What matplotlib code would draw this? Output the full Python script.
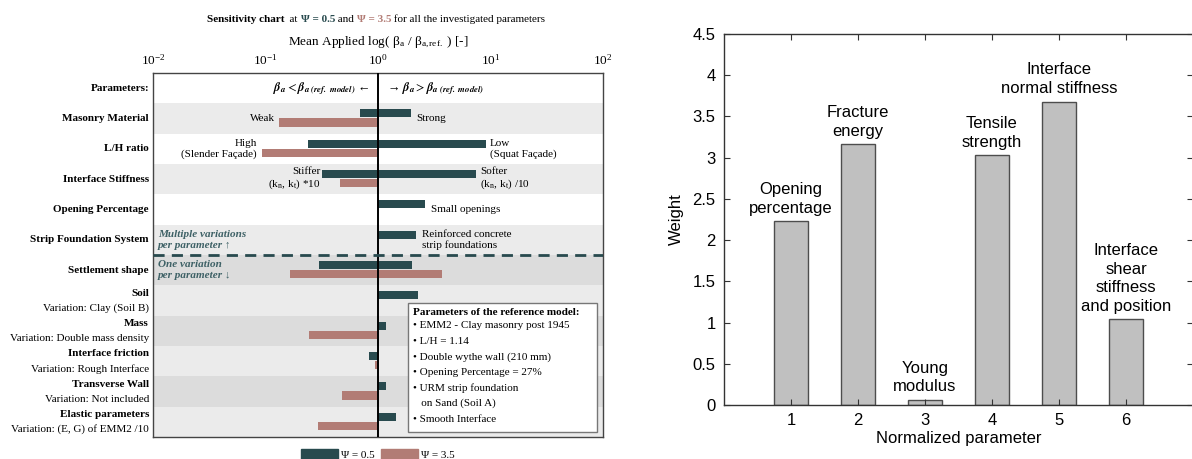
import numpy as np
import matplotlib.pyplot as plt
from matplotlib.patches import Patch, Rectangle

plt.rcParams['mathtext.fontset'] = 'stix'
plt.rcParams['font.family'] = ['Liberation Serif', 'DejaVu Serif']

W, H = 1192, 459
teal = '#284a4e'
rose = '#b27c75'
band_light = '#ebebeb'
band_dark = '#dcdcdc'

# --- sensitivity chart data ---
params = ['Masonry Material', 'L/H ratio', 'Interface Stiffness', 'Opening Percentage',
          'Strip Foundation System', 'Settlement shape', 'Soil', 'Mass',
          'Interface friction', 'Transverse Wall', 'Elastic parameters']
variations = ['', '', '', '', '', '', 'Variation: Clay (Soil B)',
              'Variation: Double mass density', 'Variation: Rough Interface',
              'Variation: Not included', 'Variation: (E, G) of EMM2 /10']
# beta_a / beta_a,ref for the lower and upper variation of every parameter
psi05_low = [0.69, 0.24, 0.32, 1, 1, 0.30, 1, 1, 0.84, 1, 1]
psi05_high = [1.95, 9.2, 7.5, 2.62, 2.19, 2.0, 2.27, 1.19, 1, 1.18, 1.46]
psi35_low = [0.132, 0.094, 0.46, 1, 1, 0.164, 1, 0.242, 0.95, 0.48, 0.29]
psi35_high = [1, 1, 1, 1, 1, 3.68, 1, 1, 1, 1, 1]
band_colors = ['white', band_light, 'white', band_light, 'white', band_light,
               band_dark, band_light, band_dark, band_light, band_dark, band_light]

ref_model = ['\u2022 EMM2 - Clay masonry post 1945', '\u2022 L/H = 1.14',
             '\u2022 Double wythe wall (210 mm)', '\u2022 Opening Percentage = 27%',
             '\u2022 URM strip foundation', '   on Sand (Soil A)', '\u2022 Smooth Interface']

# --- weights of the normalized parameters ---
norm_params = [1, 2, 3, 4, 5, 6]
weights = [2.23, 3.16, 0.06, 3.03, 3.68, 1.04]
weight_names = ['Opening\npercentage', 'Fracture\nenergy', 'Young\nmodulus',
                'Tensile\nstrength', 'Interface\nnormal stiffness',
                'Interface\nshear\nstiffness\nand position']

fig = plt.figure(figsize=(W / 100, H / 100), dpi=100)

ax = fig.add_axes([153 / W, 1 - 437 / H, 450 / W, 364 / H])
rows = np.arange(1, 12)
for i, c in enumerate(band_colors):
    ax.axhspan(i - 0.5, i + 0.5, color=c, lw=0, zorder=0)

hb = 0.27
ax.barh(rows - 0.17, np.array(psi05_high) - np.array(psi05_low), left=psi05_low,
        height=hb, color=teal, lw=0, zorder=2)
ax.barh(rows + 0.13, np.array(psi35_high) - np.array(psi35_low), left=psi35_low,
        height=hb, color=rose, lw=0, zorder=2)
ax.axvline(1, color='black', lw=1.4, zorder=3)
ax.axhline(5.5, color=teal, lw=2, dashes=(4, 2.6), zorder=3)

ax.set_xscale('log')
ax.set_xlim(1e-2, 1e2)
ax.set_ylim(11.5, -0.5)
ax.xaxis.tick_top()
ax.xaxis.set_label_position('top')
ax.tick_params(axis='x', length=0, pad=4, labelsize=9.5)
ax.tick_params(axis='y', left=False, labelleft=False)
ax.minorticks_off()
for s in ax.spines.values():
    s.set_color('#444444')
    s.set_linewidth(1)
ax.set_xlabel(r'Mean Applied log( β$_\mathregular{a}$ / β$_\mathregular{a,ref.}$ ) [-]',
              fontsize=9.5, labelpad=6)

# parameter names on the left
tx = ax.get_yaxis_transform()
ax.text(-0.009, 0, 'Parameters:', transform=tx, ha='right', va='center',
        fontsize=8, fontweight='bold')
for r, name, var in zip(rows, params, variations):
    if var:
        ax.text(-0.009, r - 0.24, name, transform=tx, ha='right', va='center',
                fontsize=8, fontweight='bold')
        ax.text(-0.009, r + 0.25, var, transform=tx, ha='right', va='center', fontsize=8)
    else:
        ax.text(-0.009, r, name, transform=tx, ha='right', va='center',
                fontsize=8, fontweight='bold')

beta_lt = r'$\mathbfit{\beta}_{\mathbfit{a}}<\mathbfit{\beta}_{\mathbfit{a\ (ref.\ model)}}$'
beta_gt = r'$\mathbfit{\beta}_{\mathbfit{a}}>\mathbfit{\beta}_{\mathbfit{a\ (ref.\ model)}}$'
ax.text(0.84, 0, beta_lt + ' \u2190', ha='right', va='center', fontsize=9)
ax.text(1.2, 0, '\u2192 ' + beta_gt, ha='left', va='center', fontsize=9)

fs = 8
ax.text(0.122, 1, 'Weak', ha='right', va='center', fontsize=fs)
ax.text(2.2, 1, 'Strong', ha='left', va='center', fontsize=fs)
ax.text(0.084, 2, 'High\n(Slender Façade)', ha='right', va='center', fontsize=fs,
        multialignment='right')
ax.text(9.9, 2, 'Low\n(Squat Façade)', ha='left', va='center', fontsize=fs)
ax.text(0.31, 3, 'Stiffer\n(k$_\\mathregular{n}$, k$_\\mathregular{t}$) *10', ha='right',
        va='center', fontsize=fs, multialignment='right')
ax.text(8.1, 3, 'Softer\n(k$_\\mathregular{n}$, k$_\\mathregular{t}$) /10', ha='left',
        va='center', fontsize=fs)
ax.text(2.98, 4, 'Small openings', ha='left', va='center', fontsize=fs)
ax.text(2.48, 5, 'Reinforced concrete\nstrip foundations', ha='left', va='center', fontsize=fs)
ax.text(0.0111, 5, 'Multiple variations\nper parameter \u2191', ha='left', va='center',
        fontsize=fs, color='#3e6166', fontweight='bold', fontstyle='italic')
ax.text(0.0111, 6, 'One variation\nper parameter \u2193', ha='left', va='center',
        fontsize=fs, color='#3e6166', fontweight='bold', fontstyle='italic')

# reference model box
ax.add_patch(Rectangle((0.567, 0.014), 0.42, 0.354, transform=ax.transAxes,
                       facecolor='white', edgecolor='#777777', lw=1, zorder=4))
ax.text(0.578, 0.341, 'Parameters of the reference model:', transform=ax.transAxes,
        ha='left', va='center', fontsize=fs, fontweight='bold', zorder=5)
for k, line in enumerate(ref_model):
    ax.text(0.578, 0.305 - k * 0.0426, line, transform=ax.transAxes,
            ha='left', va='center', fontsize=fs, zorder=5)

ax.legend(handles=[Patch(color=teal), Patch(color=rose)], labels=['Ψ = 0.5', 'Ψ = 3.5'],
          loc='upper center', bbox_to_anchor=(0.5, -0.012), ncol=2, frameon=False,
          fontsize=fs, handlelength=3.3, handleheight=1.0, columnspacing=0.6,
          handletextpad=0.3, borderpad=0.2)

# title built from coloured pieces
pieces = [('  at ', 'normal', 'black'), ('Ψ = 0.5', 'bold', teal), (' and ', 'normal', 'black'),
          ('Ψ = 3.5', 'bold', rose), (' for all the investigated parameters', 'normal', 'black')]
anchor = fig.text(207 / W, 1 - 22 / H, 'Sensitivity chart', fontsize=8, fontweight='bold',
                  ha='left', va='baseline')
for txt, wt, col in pieces:
    anchor = ax.annotate(txt, xy=(1, 0), xycoords=anchor, va='bottom', ha='left',
                         fontsize=8, fontweight=wt, color=col, annotation_clip=False)

# --- weight bar chart ---
ax2 = fig.add_axes([724 / W, 1 - 405 / H, (1193 - 724) / W, 371 / H])
ax2.bar(norm_params, weights, width=0.5, color='#c0c0c0', edgecolor='#4d4d4d', lw=1)
for x, w, name in zip(norm_params, weights, weight_names):
    ax2.annotate(name, (x, w), xytext=(0, 4), textcoords='offset points', ha='center',
                 va='bottom', fontsize=12, family='Liberation Sans', linespacing=1.3)
ax2.set_xlim(0, 7)
ax2.set_ylim(0, 4.5)
ax2.set_xticks(norm_params)
yt = np.arange(0, 4.6, 0.5)
ax2.set_yticks(yt)
ax2.set_yticklabels(['0', '0.5', '1', '1.5', '2', '2.5', '3', '3.5', '4', '4.5'])
ax2.tick_params(direction='in', top=True, right=True, length=4, labelsize=12,
                labelfontfamily='Liberation Sans', color='#333333', pad=6)
for s in ax2.spines.values():
    s.set_color('#333333')
    s.set_linewidth(1)
ax2.set_xlabel('Normalized parameter', fontsize=12, family='Liberation Sans', labelpad=2)
ax2.set_ylabel('Weight', fontsize=12, family='Liberation Sans', labelpad=6)

fig.savefig('out.png', dpi=100)
